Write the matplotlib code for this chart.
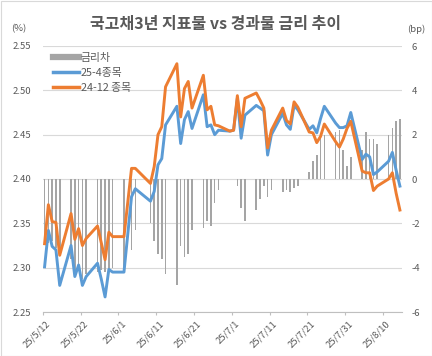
import matplotlib
matplotlib.use('Agg')
import matplotlib.pyplot as plt
import matplotlib.transforms as mtransforms
from matplotlib.lines import Line2D
from matplotlib.patches import Rectangle
import pandas as pd

plt.rcParams['font.family'] = ['Noto Sans CJK KR', 'DejaVu Sans']

# trading days (2025)
dates = ['05-12', '05-13', '05-14', '05-15', '05-16',
         '05-19', '05-20', '05-21', '05-22', '05-23',
         '05-26', '05-27', '05-28', '05-29', '05-30',
         '06-02', '06-04', '06-05',
         '06-09', '06-10', '06-11', '06-12', '06-13',
         '06-16', '06-17', '06-18', '06-19', '06-20',
         '06-23', '06-24', '06-25', '06-26', '06-27',
         '06-30', '07-01', '07-02', '07-03', '07-04',
         '07-07', '07-08', '07-09', '07-10', '07-11',
         '07-14', '07-15', '07-16', '07-17', '07-18',
         '07-21', '07-22', '07-23', '07-24', '07-25',
         '07-28', '07-29', '07-30', '07-31', '08-01',
         '08-04', '08-05', '08-06', '08-07', '08-08',
         '08-11', '08-12', '08-13', '08-14']

# 25-4 종목 (%)
rate_25_4 = [2.301, 2.342, 2.324, 2.320, 2.280,
             2.325, 2.290, 2.303, 2.280, 2.290,
             2.305, 2.287, 2.267, 2.298, 2.295,
             2.295, 2.380, 2.389,
             2.375, 2.386, 2.416, 2.423, 2.461,
             2.482, 2.440, 2.467, 2.476, 2.457,
             2.495, 2.459, 2.461, 2.450, 2.455,
             2.454, 2.455, 2.491, 2.446, 2.472,
             2.483, 2.480, 2.477, 2.427, 2.450,
             2.474, 2.461, 2.456, 2.483, 2.478,
             2.456, 2.460, 2.452, 2.468, 2.482,
             2.463, 2.458, 2.458, 2.460, 2.475,
             2.422, 2.428, 2.425, 2.405, 2.408,
             2.420, 2.430, 2.410, 2.392]

# 24-12 종목 (%)
rate_24_12 = [2.327, 2.371, 2.352, 2.351, 2.314,
              2.361, 2.332, 2.344, 2.325, 2.333,
              2.347, 2.328, 2.309, 2.340, 2.335,
              2.335, 2.412, 2.412,
              2.395, 2.414, 2.450, 2.459, 2.504,
              2.530, 2.470, 2.502, 2.510, 2.480,
              2.517, 2.478, 2.482, 2.461, 2.460,
              2.454, 2.455, 2.494, 2.459, 2.491,
              2.497, 2.489, 2.480, 2.435, 2.455,
              2.480, 2.466, 2.462, 2.487, 2.481,
              2.453, 2.452, 2.441, 2.448, 2.462,
              2.442, 2.436, 2.445, 2.457, 2.465,
              2.409, 2.407, 2.407, 2.387, 2.392,
              2.400, 2.407, 2.384, 2.365]

# 금리차 (bp)
spread_bp = [-2.6, -2.9, -2.8, -3.1, -3.4,
             -3.6, -4.2, -4.1, -4.5, -4.3,
             -4.2, -4.1, -4.2, -4.2, -4.0,
             -4.0, -3.2, -2.3,
             -2.0, -2.8, -3.4, -3.6, -4.3,
             -4.8, -3.0, -3.5, -3.4, -2.3,
             -2.2, -1.9, -2.1, -1.1, -0.5,
             0.0, 0.0, -0.3, -1.3, -1.9,
             -1.4, -0.9, -0.3, -0.8, -0.5,
             -0.6, -0.5, -0.6, -0.4, -0.3,
             0.3, 0.8, 1.1, 2.0, 2.0,
             2.1, 2.2, 1.3, 0.6, 1.0,
             1.3, 2.1, 1.8, 1.8, 1.6,
             2.0, 2.3, 2.6, 2.7]

tick_dates = ['05-12', '05-22', '06-01', '06-11', '06-21',
              '07-01', '07-11', '07-21', '07-31', '08-10']
tick_labels = ['25/5/12', '25/5/22', '25/6/1', '25/6/11', '25/6/21',
               '25/7/1', '25/7/11', '25/7/21', '25/7/31', '25/8/10']

left_ticks = [2.25, 2.30, 2.35, 2.40, 2.45, 2.50, 2.55]
right_ticks = [-6, -4, -2, 0, 2, 4, 6]

start = pd.Timestamp('2025-05-12')
x = (pd.to_datetime(['2025-' + d for d in dates]) - start).days.to_numpy() + 0.5
xt = (pd.to_datetime(['2025-' + d for d in tick_dates]) - start).days.to_numpy()

text_c = '#595959'
fig = plt.figure(figsize=(4.32, 3.56), dpi=100)
ax = fig.add_axes([42.7 / 432, 1 - 312 / 356, (401.8 - 42.7) / 432, 266 / 356])
ax2 = ax.twinx()

# bars behind lines
ax.set_zorder(ax2.get_zorder() + 1)
ax.patch.set_visible(False)

ax2.bar(x, spread_bp, width=0.42, color='#A5A5A5', zorder=2)
ax2.set_ylim(-6, 6)
ax2.set_yticks(right_ticks)
ax2.set_yticklabels([str(t) for t in right_ticks])
ax2.yaxis.grid(True, color='#D9D9D9', lw=0.8, zorder=0)
ax2.set_axisbelow(True)
ax2.tick_params(axis='y', length=0, pad=7.2, labelsize=6.8, labelcolor=text_c)

ax.plot(x, rate_25_4, color='#5B9BD5', lw=2.1)
ax.plot(x, rate_24_12, color='#ED7D31', lw=2.1)
ax.set_ylim(2.25, 2.55)
ax.set_yticks(left_ticks)
ax.set_yticklabels(['%.2f' % t for t in left_ticks])
ax.tick_params(axis='y', length=0, pad=8.4, labelsize=6.8, labelcolor=text_c)

ax.set_xlim(0, 95)
ax.set_xticks(xt)
ax.set_xticklabels(tick_labels, rotation=45, ha='right', rotation_mode='anchor')
ax.tick_params(axis='x', length=2.5, width=0.8, color='#BFBFBF', pad=2.5,
               labelsize=6.8, labelcolor=text_c)
shift = mtransforms.ScaledTranslation(3 / 100, 0, fig.dpi_scale_trans)
for lbl in ax.get_xticklabels():
    lbl.set_transform(lbl.get_transform() + shift)

for a in (ax, ax2):
    for s in a.spines.values():
        s.set_visible(False)
ax.spines['bottom'].set_visible(True)
ax.spines['bottom'].set_color('#BFBFBF')
ax.spines['bottom'].set_linewidth(0.8)

handles = [Line2D([], [], color='#A5A5A5', lw=4.5),
           Line2D([], [], color='#5B9BD5', lw=2.5),
           Line2D([], [], color='#ED7D31', lw=2.5)]
ax.legend(handles, ['금리차', '25-4종목', '24-12 종목'], loc='upper left',
          bbox_to_anchor=(52.7 / 432, 1 - 53 / 356), bbox_transform=fig.transFigure,
          frameon=False, fontsize=7.8, handlelength=2.4, handletextpad=0.2,
          labelspacing=0.45, borderpad=0, borderaxespad=0, labelcolor=text_c)

fig.text(0.5, 1 - 24 / 356, '국고채3년 지표물 vs 경과물 금리 추이', ha='center', va='center',
         fontsize=11.5, fontweight='bold', color=text_c)
fig.text(18.5 / 432, 1 - 29 / 356, '(%)', ha='center', va='center', fontsize=6.8, color=text_c)
fig.text(416 / 432, 1 - 29 / 356, '(bp)', ha='center', va='center', fontsize=6.8, color=text_c)

fig.patches.append(Rectangle((0.5 / 432, 0.5 / 356), 1 - 1 / 432, 1 - 1 / 356,
                             transform=fig.transFigure, fill=False,
                             edgecolor='#D9D9D9', lw=0.8))

fig.savefig('out.png', dpi=100)
